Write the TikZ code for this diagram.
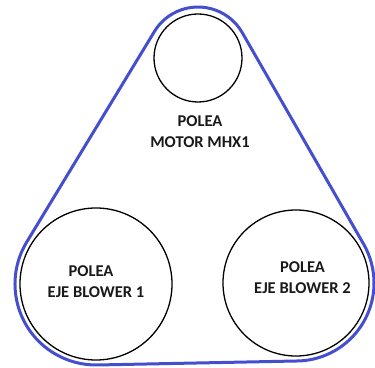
\documentclass[tikz,border=0pt]{standalone}
\usepackage{fontspec}
\setmainfont{Carlito}
\usetikzlibrary{calc}
\definecolor{beltblue}{RGB}{70,78,208}
\tikzset{
  pulley/.style={circle,draw=black,line width=1.3pt,inner sep=0pt,outer sep=0pt},
  belt/.style={draw=beltblue,line width=3pt,line join=round},
  lbl/.style={align=center,font=\bfseries\fontsize{16.5}{21}\selectfont,text=black!90}
}
\begin{document}
\begin{tikzpicture}[x=1pt,y=1pt]
\useasboundingbox (0,0) rectangle (375,367);
\node[pulley,minimum size=88pt] (T) at (198,309) {};
\node[pulley,minimum size=152pt] (L) at (96,83) {};
\node[pulley,minimum size=146pt] (R) at (296,84) {};
\draw[belt] ($(R)+(-88.85:78)$) arc[start angle=-88.85,end angle=29.85,radius=78]
  -- ($(T)+(29.85:51)$) arc[start angle=29.85,end angle=148.76,radius=51]
  -- ($(L)+(148.76:81)$) arc[start angle=148.76,end angle=271.15,radius=81]
  -- cycle;
\node[lbl] (tT) at (200,235) {POLEA\\MOTOR MHX1};
\node[lbl] (tL) at (91,85.5) {POLEA\\\hspace*{10pt}EJE BLOWER 1};
\node[lbl] (tR) at (302.5,89.5) {POLEA\\EJE BLOWER 2};
\end{tikzpicture}
\end{document}
